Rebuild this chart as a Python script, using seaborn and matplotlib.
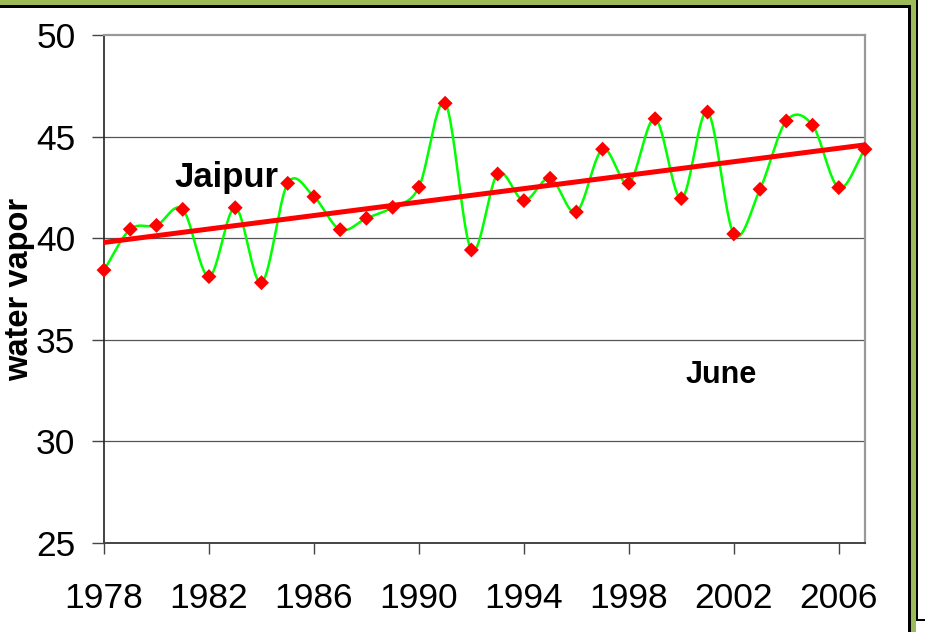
import numpy as np
import pandas as pd
import matplotlib
matplotlib.use("Agg")
import matplotlib.pyplot as plt
from matplotlib.patches import Rectangle
import seaborn as sns

# June water vapor at Jaipur, 1978-2007
years = list(range(1978, 2008))
vapor = [38.43, 40.44, 40.63, 41.42, 38.11, 41.50, 37.81, 42.70, 42.04, 40.42,
         40.98, 41.52, 42.51, 46.64, 39.42, 43.16, 41.85, 42.95, 41.29, 44.38,
         42.70, 45.88, 41.95, 46.21, 40.21, 42.41, 45.77, 45.56, 42.49, 44.38]
x_ticks = list(range(1978, 2007, 4))
y_ticks = [25, 30, 35, 40, 45, 50]

df = pd.DataFrame({"year": years, "vapor": vapor})


def smooth_curve(x, y, steps=24):
    """Cardinal (Catmull-Rom) spline through the points, like a smoothed chart line."""
    x = np.asarray(x, float)
    y = np.asarray(y, float)
    n = len(x)
    mx = np.empty(n)
    my = np.empty(n)
    mx[1:-1] = (x[2:] - x[:-2]) / 2
    my[1:-1] = (y[2:] - y[:-2]) / 2
    mx[0], my[0] = x[1] - x[0], y[1] - y[0]
    mx[-1], my[-1] = x[-1] - x[-2], y[-1] - y[-2]
    xs, ys = [], []
    t = np.linspace(0, 1, steps, endpoint=False)
    for i in range(n - 1):
        h00 = 2 * t**3 - 3 * t**2 + 1
        h10 = t**3 - 2 * t**2 + t
        h01 = -2 * t**3 + 3 * t**2
        h11 = t**3 - t**2
        xs.append(h00 * x[i] + h10 * mx[i] + h01 * x[i + 1] + h11 * mx[i + 1])
        ys.append(h00 * y[i] + h10 * my[i] + h01 * y[i + 1] + h11 * my[i + 1])
    xs.append([x[-1]])
    ys.append([y[-1]])
    return np.concatenate(xs), np.concatenate(ys)


sns.set_theme(style="white")
plt.rcParams["font.family"] = ["Liberation Sans", "DejaVu Sans"]

W, H = 925, 632
fig = plt.figure(figsize=(W / 100, H / 100), dpi=100)
fig.patch.set_facecolor("white")


def px_rect(x0, y0, x1, y1, color):
    fig.patches.append(Rectangle((x0 / W, 1 - y1 / H), (x1 - x0) / W, (y1 - y0) / H,
                                 transform=fig.transFigure, facecolor=color,
                                 edgecolor="none", zorder=0))


# slide frame: green band with black rules
green = "#9BBB59"
px_rect(0, 0, 917, 5, green)
px_rect(0, 5, 911, 8, "black")
px_rect(908, 5, 911, 632, "black")
px_rect(911, 0, 916, 632, green)
px_rect(916, 0, 918, 621, "black")
px_rect(916, 619, 925, 621, "black")

ax = fig.add_axes([104 / W, 1 - 543 / H, (865 - 104) / W, (543 - 35) / H])
ax.set_facecolor("white")

cx, cy = smooth_curve(df["year"], df["vapor"])
sns.lineplot(x=cx, y=cy, ax=ax, color="#00FF00", linewidth=1.8, sort=False,
             estimator=None, zorder=3)
sns.regplot(data=df, x="year", y="vapor", ax=ax, scatter=False, ci=None,
            color="#FF0000", line_kws={"linewidth": 3.6, "zorder": 4,
                                       "solid_capstyle": "butt"})
sns.scatterplot(data=df, x="year", y="vapor", ax=ax, marker="D", s=58,
                color="#FF0000", edgecolor="none", zorder=5, clip_on=False)

ax.set_xlim(1978, 2007)
ax.set_ylim(25, 50)
ax.set_xticks(x_ticks)
ax.set_xticklabels([str(v) for v in x_ticks])
ax.set_yticks(y_ticks)
ax.set_yticklabels([str(v) for v in y_ticks])

for yv in y_ticks[1:-1]:
    ax.axhline(yv, color="#555555", linewidth=0.9, zorder=1)

for side in ("top", "right"):
    ax.spines[side].set_color("#999999")
    ax.spines[side].set_linewidth(1.6)
ax.spines["left"].set_color("#222222")
ax.spines["left"].set_linewidth(1.2)
ax.spines["bottom"].set_color("#444444")
ax.spines["bottom"].set_linewidth(1.4)

ax.tick_params(axis="x", direction="out", length=8, width=1, color="#444444",
               pad=20, labelsize=25.5, labelcolor="black", bottom=True)
ax.tick_params(axis="y", direction="out", length=8.5, width=1, color="#444444",
               pad=12, labelsize=25.5, labelcolor="black", left=True)

ax.set_xlabel("")
ax.set_ylabel("water vapor", fontsize=23.5, fontweight="bold", color="black")
ax.yaxis.set_label_coords(-0.090, 0.5)

ax.text(1980.67, 42.52, "Jaipur", fontsize=25, fontweight="bold",
        color="black", ha="left", va="baseline", zorder=6)
ax.text(2000.16, 32.87, "June", fontsize=22, fontweight="bold",
        color="black", ha="left", va="baseline", zorder=6)

fig.savefig("out.png", dpi=100, facecolor="white")
